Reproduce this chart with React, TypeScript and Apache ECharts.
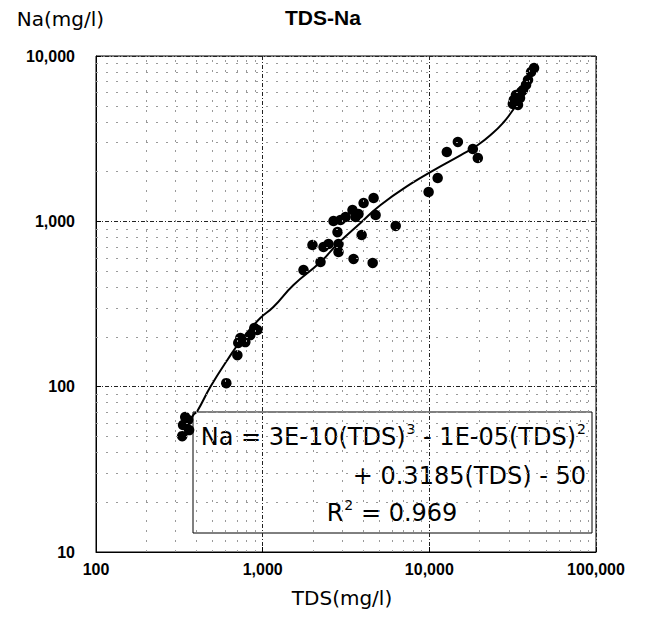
import React, { useEffect, useRef } from 'react';
import * as echarts from 'echarts';

// Measured samples: TDS (mg/l) and Na (mg/l)
const tdsValues = [
  343, 357, 333, 362, 329,
  605,
  705, 714, 735, 787, 843, 891, 929,
  1758, 2223, 1990, 2318, 2483, 2851, 2851, 2812, 2661, 3143, 3608, 3459, 3758, 4033, 4630, 4760, 3926, 3510, 4571, 6285, 2931,
  9900, 11220, 12730, 14830, 18240, 19540,
  32140, 34030, 33080, 35000, 35520, 36490, 38040, 39090, 40780, 42490, 31700,
];
const naValues = [
  65.5, 62.8, 58.6, 54.6, 50.2,
  105,
  155, 184, 197, 186, 205, 226, 220,
  507, 567, 719, 699, 729, 729, 652, 861, 1004, 1062, 1062, 1170, 1107, 1290, 1383, 1092, 826, 592, 560, 938, 1018,
  1504, 1828, 2626, 3019, 2737, 2415,
  5420, 5058, 5808, 5570, 6050, 6220, 6680, 7160, 8000, 8460, 5130,
];

// Trend curve
const trendTds = [343, 383, 405, 485, 614, 766, 968, 1159, 1531, 2223, 2851, 3864, 5100, 7727, 10910, 15450, 19540, 24040, 28000, 30830, 33570];
const trendNa = [56, 67.3, 71.1, 99.5, 145, 199, 260, 303, 412, 567, 739, 977, 1256, 1683, 2072, 2517, 2895, 3420, 3990, 4520, 5130];

// Minor grid positions (log decades)
const xMinorTicks = [200, 300, 400, 500, 600, 700, 800, 900, 2000, 3000, 4000, 5000, 6000, 7000, 8000, 9000, 20000, 30000, 40000, 50000, 60000, 70000, 80000, 90000];
const yMinorTicks = [20, 30, 40, 50, 60, 70, 80, 90, 200, 300, 400, 500, 600, 700, 800, 900, 2000, 3000, 4000, 5000, 6000, 7000, 8000, 9000];

const xRange = [100, 100000];
const yRange = [10, 10000];

const titleText = 'TDS-Na';
const xName = 'TDS(mg/l)';
const yName = 'Na(mg/l)';

export default function App() {
  const ref = useRef<HTMLDivElement>(null);

  useEffect(() => {
    if (!ref.current) return;
    const chart = echarts.init(ref.current, undefined, { renderer: 'svg' });

    const fmt = (v: number) => Math.round(v).toLocaleString('en-US');
    const tickLabel = {
      color: '#000',
      fontFamily: 'Arial',
      fontWeight: 'bold' as const,
      fontSize: 16,
    };
    const majorSplit = { show: true, lineStyle: { color: '#222', width: 1, type: [4, 2, 1, 2] } };

    const eqBase = { fontFamily: 'DejaVu Sans', fontSize: 24, lineHeight: 30, fill: '#000', color: '#000' };
    const eqSup = { fontFamily: 'DejaVu Sans', fontSize: 14, lineHeight: 12, fill: '#000', color: '#000', verticalAlign: 'top', padding: [0, 0, 0, 1] };

    chart.setOption({
      animation: false,
      backgroundColor: '#fff',
      title: {
        text: titleText,
        left: 285,
        top: 7,
        padding: 0,
        textStyle: { fontFamily: 'Arial', fontWeight: 'bold', fontSize: 21, color: '#000' },
      },
      grid: {
        left: 96,
        right: 55,
        top: 56,
        bottom: 72,
        show: true,
        borderColor: '#000',
        borderWidth: 1,
        backgroundColor: 'transparent',
      },
      xAxis: {
        type: 'log',
        logBase: 10,
        min: xRange[0],
        max: xRange[1],
        name: xName,
        nameLocation: 'middle',
        nameGap: 36,
        nameTextStyle: { fontFamily: 'DejaVu Sans', fontSize: 20, color: '#000', padding: [0, 8, 0, 0] },
        axisLine: { show: true, lineStyle: { color: '#000' } },
        axisTick: { show: true, inside: true, length: 5, lineStyle: { color: '#000' } },
        axisLabel: { ...tickLabel, margin: 9, formatter: fmt },
        splitLine: majorSplit,
      },
      yAxis: {
        type: 'log',
        logBase: 10,
        min: yRange[0],
        max: yRange[1],
        name: yName,
        nameLocation: 'end',
        nameGap: 37,
        nameTextStyle: {
          fontFamily: 'DejaVu Sans',
          fontSize: 20,
          color: '#000',
          align: 'right',
          verticalAlign: 'middle',
          padding: [0, -8, 0, 0],
        },
        axisLine: { show: true, lineStyle: { color: '#000' } },
        axisTick: { show: true, inside: true, length: 5, lineStyle: { color: '#000' } },
        axisLabel: { ...tickLabel, margin: 21, formatter: fmt },
        splitLine: majorSplit,
      },
      series: [
        {
          type: 'scatter',
          name: 'minor-grid',
          data: [],
          z: 1,
          silent: true,
          markLine: {
            silent: true,
            symbol: 'none',
            label: { show: false },
            lineStyle: { color: '#9a9a9a', width: 1, type: [2, 8] },
            data: [
              ...xMinorTicks.map((v) => ({ xAxis: v })),
              ...yMinorTicks.map((v) => ({ yAxis: v })),
            ],
          },
        },
        {
          type: 'line',
          name: 'trend',
          data: trendTds.map((t, i) => [t, trendNa[i]]),
          smooth: true,
          showSymbol: false,
          symbol: 'none',
          lineStyle: { color: '#000', width: 2 },
          z: 3,
        },
        {
          type: 'scatter',
          name: 'samples',
          data: tdsValues.map((t, i) => [t, naValues[i]]),
          symbol: 'circle',
          symbolSize: 10.5,
          itemStyle: { color: '#000', opacity: 1 },
          z: 4,
        },
      ],
      graphic: [
        {
          type: 'group',
          z: 100,
          children: [
            {
              type: 'rect',
              shape: { x: 193, y: 412, width: 399, height: 121 },
              style: { fill: '#fff', stroke: '#000', lineWidth: 1 },
            },
            {
              type: 'text',
              x: 586,
              y: 437,
              style: {
                text: '{n|Na = 3E-10(TDS)}{s|3}{n| - 1E-05(TDS)}{s|2}',
                align: 'right',
                verticalAlign: 'middle',
                rich: { n: eqBase, s: eqSup },
              },
            },
            {
              type: 'text',
              x: 586,
              y: 476,
              style: {
                text: '{n|+ 0.3185(TDS) - 50}',
                align: 'right',
                verticalAlign: 'middle',
                rich: { n: eqBase },
              },
            },
            {
              type: 'text',
              x: 392,
              y: 513,
              style: {
                text: '{n|R}{s|2}{n| = 0.969}',
                align: 'center',
                verticalAlign: 'middle',
                rich: { n: eqBase, s: eqSup },
              },
            },
          ],
        },
      ],
    });

    return () => chart.dispose();
  }, []);

  return <div ref={ref} style={{ position: 'absolute', left: 0, top: 0, width: 651, height: 624 }} />;
}
